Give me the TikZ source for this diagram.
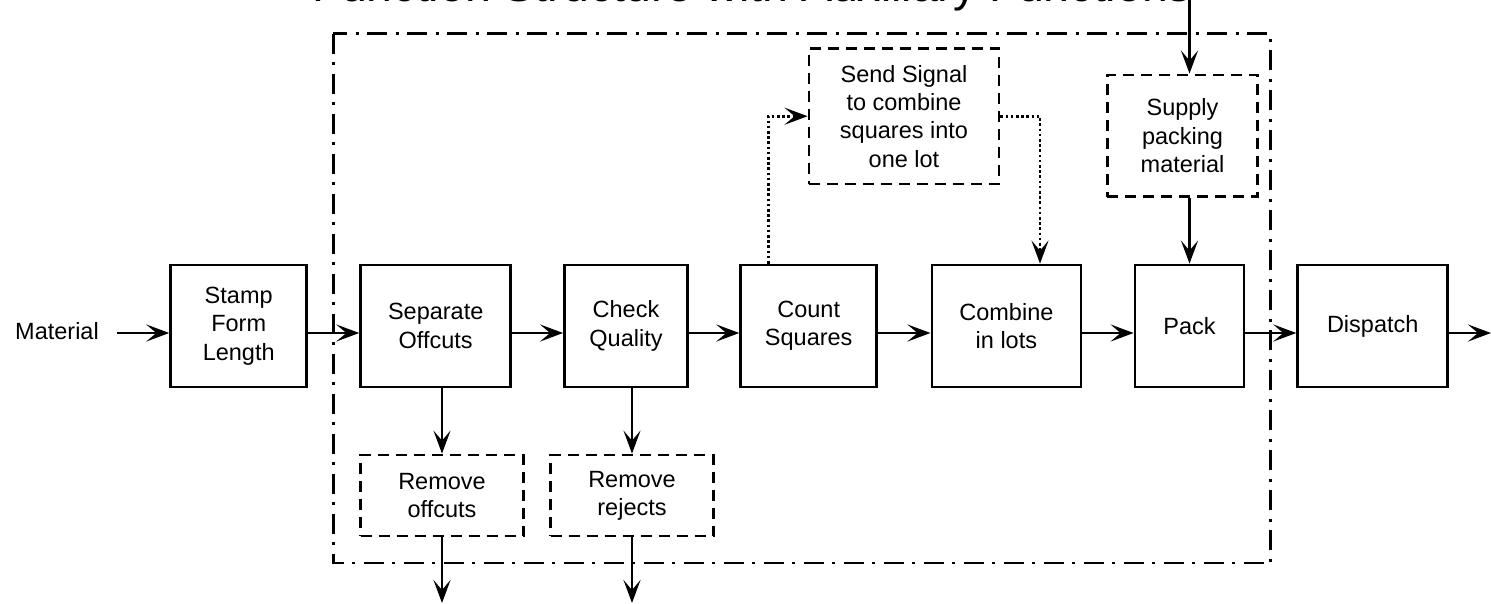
\documentclass[tikz,border=0pt]{standalone}
\usepackage{fontspec}
\setmainfont{Liberation Sans}
\usetikzlibrary{arrows.meta}

\tikzset{
  stroke/.style={line width=2.8pt},
  fn/.style={stroke, draw, rectangle, align=center, inner sep=0pt,
             font=\fontsize{23.5}{28.3}\selectfont},
  mainfn/.style={fn},
  auxfn/.style={fn, dash pattern=on 11pt off 7pt},
  tip/.style={-{Stealth[length=23pt,width=17pt,inset=10pt]}},
  flow/.style={stroke, tip},
  signal/.style={stroke, tip, dash pattern=on 2.6pt off 2.6pt},
  sysborder/.style={stroke, dash pattern=on 20pt off 8pt on 3pt off 9pt},
}

\begin{document}
\begin{tikzpicture}[x=1pt, y=-1pt]
  \useasboundingbox (0,0) rectangle (1491,603);

  % heading (runs off the top edge of the page)
  \node[anchor=base, font=\fontsize{46.5}{50}\selectfont, inner sep=0pt]
    (title) at (752,1.5) {Function Structure with Auxiliary Functions};

  % system boundary
  \draw[sysborder] (333.3,33.8) rectangle (1270.7,563);

  % main functions
  \node[mainfn, minimum width=136pt, minimum height=122pt] (stamp)    at (238.7,326) {Stamp\\Form\\Length};
  \node[mainfn, minimum width=150pt, minimum height=122pt] (sep)      at (435.7,326) {Separate\\Offcuts};
  \node[mainfn, minimum width=123pt, minimum height=122pt] (check)    at (626,326)   {Check\\Quality};
  \node[mainfn, minimum width=136pt, minimum height=122pt] (count)    at (808.7,326) {Count\\Squares};
  \node[mainfn, minimum width=149pt, minimum height=122pt] (combine)  at (1006.4,326) {Combine\\in lots};
  \node[mainfn, minimum width=109pt, minimum height=122pt] (pack)     at (1189.5,326) {Pack};
  \node[mainfn, minimum width=150pt, minimum height=122pt] (dispatch) at (1372.7,326) {Dispatch};

  % auxiliary functions
  \node[auxfn, minimum width=162.6pt, minimum height=81pt]  (remoff) at (442,495.5)    {Remove\\offcuts};
  \node[auxfn, minimum width=162.6pt, minimum height=81pt]  (remrej) at (632,495.5)    {Remove\\rejects};
  \node[auxfn, minimum width=190pt,   minimum height=135.7pt] (send) at (904,116.2)    {Send Signal\\to combine\\squares into\\one lot};
  \node[auxfn, minimum width=150.4pt, minimum height=121.7pt] (supply) at (1182.5,135.8) {Supply\\packing\\material};

  % input / output labels and free ends
  \node[font=\fontsize{23.5}{28.3}\selectfont, inner sep=0pt] (material) at (57,331) {Material};
  \coordinate (axis)    at (0,333);
  \coordinate (inpt)    at (117,333);
  \coordinate (outpt)   at (1491,333);
  \coordinate (offout)  at (442,603);
  \coordinate (rejout)  at (632,603);
  \coordinate (packin)  at (1189.5,0);

  % material flow along the main chain
  \draw[flow] (inpt) -- (stamp.west |- axis);
  \draw[flow] (stamp.east |- axis) -- (sep.west |- axis);
  \draw[flow] (sep.east |- axis) -- (check.west |- axis);
  \draw[flow] (check.east |- axis) -- (count.west |- axis);
  \draw[flow] (count.east |- axis) -- (combine.west |- axis);
  \draw[flow] (combine.east |- axis) -- (pack.west |- axis);
  \draw[flow] (pack.east |- axis) -- (dispatch.west |- axis);
  \draw[flow] (dispatch.east |- axis) -- (outpt);

  % side flows to and from the auxiliary functions
  \draw[flow] (sep.south -| remoff.north) -- (remoff.north);
  \draw[flow] (check.south -| remrej.north) -- (remrej.north);
  \draw[flow] (remoff.south) -- (offout);
  \draw[flow] (remrej.south) -- (rejout);
  \draw[flow] (packin) -- (supply.north -| packin);
  \draw[flow] (supply.south -| pack.north) -- (pack.north);

  % signal flow
  \draw[signal] ([xshift=-40.4pt]count.north) |- (send.west);
  \draw[signal] (send.east) -| ([xshift=33.6pt]combine.north);
\end{tikzpicture}
\end{document}
